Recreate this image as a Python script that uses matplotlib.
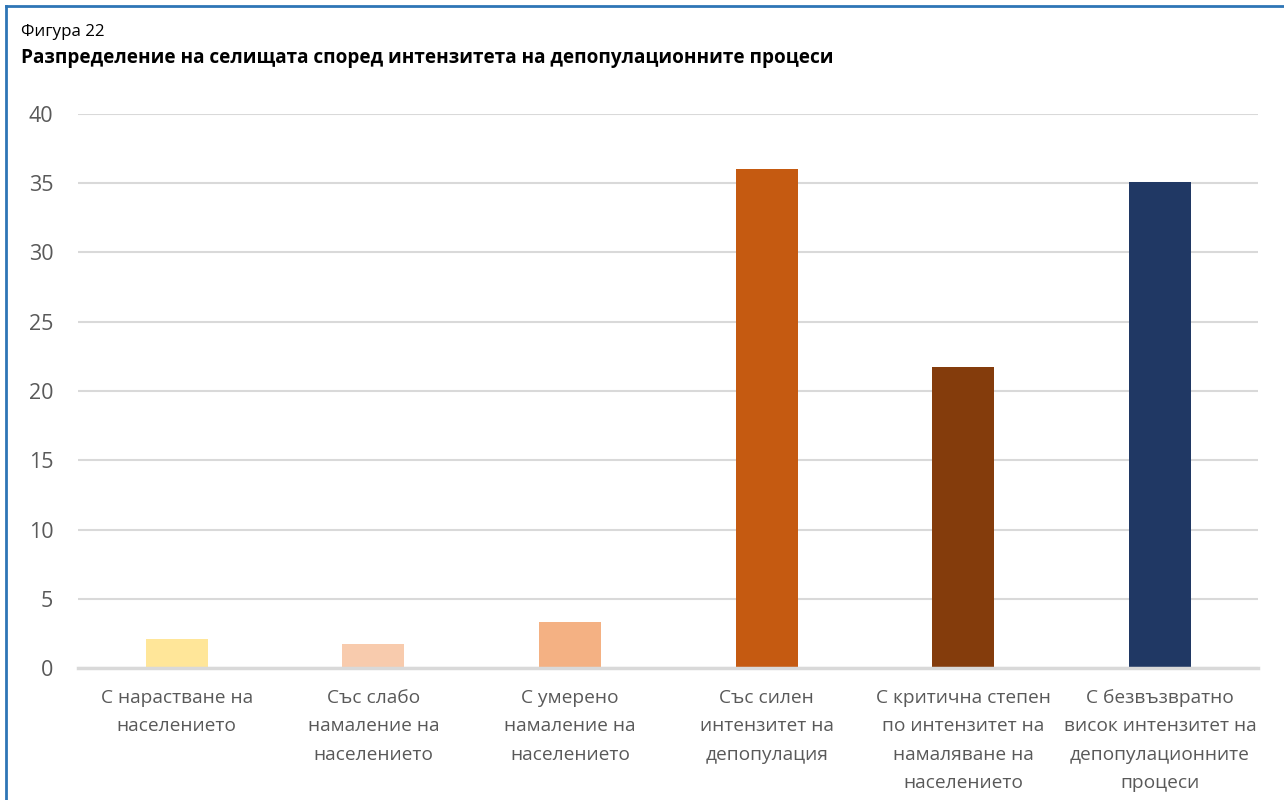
import matplotlib.pyplot as plt
from matplotlib.lines import Line2D

plt.rcParams['font.family'] = ['Open Sans', 'DejaVu Sans']

# categories and values
categories = [
    'С нарастване на\nнаселението',
    'Със слабо\nнамаление на\nнаселението',
    'С умерено\nнамаление на\nнаселението',
    'Със силен\nинтензитет на\nдепопулация',
    'С критична степен\nпо интензитет на\nнамаляване на\nнаселението',
    'С безвъзвратно\nвисок интензитет на\nдепопулационните\nпроцеси',
]
values = [2.1, 1.7, 3.3, 36.0, 21.7, 35.1]
colors = ['#ffe699', '#f8cbad', '#f4b183', '#c55a11', '#843c0c', '#203864']

fig = plt.figure(figsize=(12.84, 8), dpi=100)
ax = fig.add_axes([0.061, 0.165, 0.919, 0.6925])

x = range(len(values))
ax.bar(x, values, width=0.315, color=colors, zorder=3)

ax.set_xlim(-0.5, len(values) - 0.5)
ax.set_ylim(0, 40)
ax.set_yticks(range(0, 41, 5))
ax.set_xticks(list(x))
ax.set_xticklabels(categories, fontsize=13.8, color='#595959', linespacing=1.75)
ax.tick_params(axis='y', labelsize=15.5, labelcolor='#595959', length=0, pad=18)
ax.tick_params(axis='x', length=0, pad=15)
ax.yaxis.grid(True, color='#d9d9d9', linewidth=1.5, zorder=0)
for s in ['top', 'right', 'left']:
    ax.spines[s].set_visible(False)
ax.spines['bottom'].set_color('#d9d9d9')
ax.spines['bottom'].set_linewidth(2.5)
ax.spines['bottom'].set_zorder(4)

fig.text(0.016, 0.96, 'Фигура 22', fontsize=12.2, va='center', ha='left', color='#000000')
fig.text(0.016, 0.928, 'Разпределение на селищата според интензитета на депопулационните процеси',
         fontsize=13.7, fontweight='bold', va='center', ha='left', color='#000000')

# blue frame (top and left edges visible)
fig.add_artist(Line2D([0.005, 1.0], [0.993, 0.993], color='#2e75b6', linewidth=2, transform=fig.transFigure))
fig.add_artist(Line2D([0.005, 0.005], [0.0, 0.993], color='#2e75b6', linewidth=2, transform=fig.transFigure))

fig.savefig('out.png', dpi=100)
